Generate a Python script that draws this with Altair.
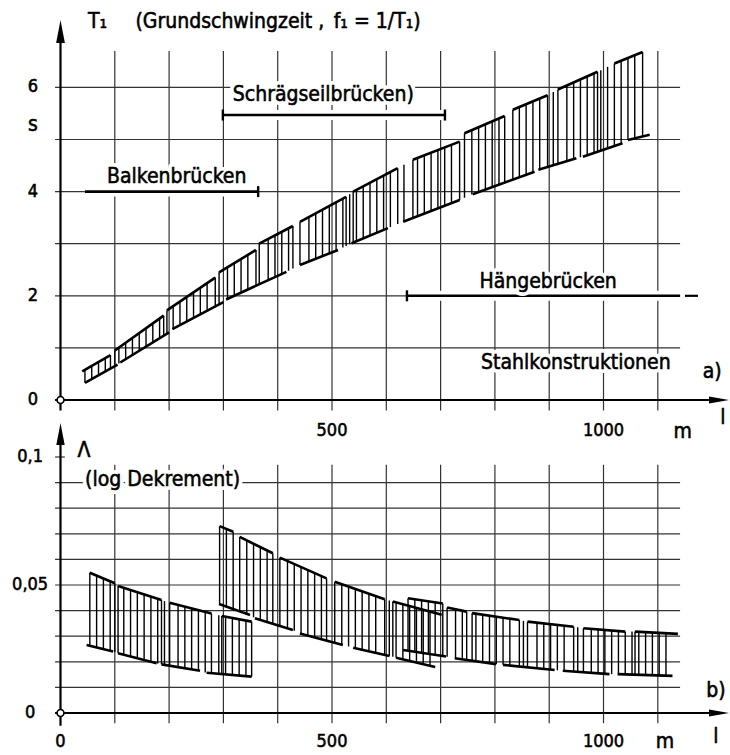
import altair as alt
import numpy as np
import pandas as pd

FONT = "DejaVu Sans Condensed, DejaVu Sans, sans-serif"

# ---------------- shared span axis l [m] ----------------
L_MAX = 1231.1
grid_l = [100, 200, 300, 400, 500, 600, 700, 800, 900, 1000, 1100]

# ---------------- a) fundamental period T1 [s] ----------------
a_grid_T = [1, 2, 3, 4, 5, 6]
a_tick_T = [0, 2, 4, 6]
a_tick_txt = ["0", "2", "4", "6"]
a_xtick_l = [500, 1000]
a_xtick_txt = ["500", "1000"]

# boundary pieces of the hatched band: (l from, T from, l to, T to)
a_upper = [
    (40, 0.55, 92, 0.86),
    (100, 0.95, 190, 1.62),
    (196, 1.72, 285, 2.35),
    (292, 2.45, 360, 2.88),
    (366, 3.00, 428, 3.34),
    (441, 3.42, 526, 3.90),
    (539, 4.00, 621, 4.45),
    (649, 4.61, 735, 4.96),
    (744, 5.12, 818, 5.45),
    (833, 5.57, 897, 5.85),
    (916, 5.96, 989, 6.30),
    (1020, 6.46, 1072, 6.68),
]
a_lower = [
    (45, 0.33, 105, 0.68),
    (110, 0.72, 200, 1.30),
    (206, 1.36, 300, 1.88),
    (305, 1.93, 416, 2.46),
    (441, 2.59, 511, 2.88),
    (536, 3.01, 603, 3.30),
    (631, 3.42, 735, 3.84),
    (759, 3.95, 873, 4.38),
    (880, 4.42, 950, 4.64),
    (962, 4.67, 1035, 4.93),
    (1045, 4.99, 1085, 5.09),
]

# span ranges of the bridge types
bar_name = ["Balkenbrücken", "Schrägseilbrücken)", "Hängebrücken"]
bar_from = [45, 299, 638]
bar_to = [364, 708, 1141]
bar_T = [4.0, 5.47, 2.0]
bar_cap_from = [False, True, True]
bar_cap_to = [True, True, False]
bar_label_l = [214, 484, 898]
bar_label_T = [4.28, 5.854, 2.265]
bar_dash_from = [1150]
bar_dash_to = [1174]
bar_dash_T = [2.0]

a_title = "T₁\u2003\u2002(Grundschwingzeit ,\u2002f₁ = 1/T₁)"
a_notes_txt = ["Stahlkonstruktionen", "a)", "l", "m", "s"]
a_notes_l = [949, 1200, 1220, 1146, -50.6]
a_notes_T = [0.71, 0.54, -0.345, -0.61, 5.28]

# ---------------- b) logarithmic decrement ----------------
b_grid_D = [0.01, 0.02, 0.03, 0.04, 0.05, 0.06, 0.07, 0.08, 0.09]
b_tick_D = [0.0, 0.05, 0.1]
b_tick_txt = ["0", "0,05", "0,1"]
b_xtick_l = [0, 500, 1000]
b_xtick_txt = ["0", "500", "1000"]

# girder bridges
beam_upper = [
    (54, 0.0548, 100, 0.0507),
    (106, 0.0496, 186, 0.0441),
    (201, 0.0431, 278, 0.0389),
    (297, 0.0379, 352, 0.0357),
]
beam_lower = [
    (48, 0.0266, 97, 0.0240),
    (106, 0.0233, 177, 0.0194),
    (186, 0.0190, 257, 0.0165),
    (269, 0.0157, 352, 0.0142),
]
# cable-stayed bridges
cable_upper = [
    (293, 0.0730, 318, 0.0708),
    (330, 0.0688, 391, 0.0624),
    (404, 0.0607, 490, 0.0526),
    (505, 0.0513, 597, 0.0444),
    (612, 0.0436, 702, 0.0384),
]
cable_lower = [
    (292, 0.0426, 349, 0.0383),
    (358, 0.0370, 428, 0.0324),
    (441, 0.0311, 520, 0.0266),
    (539, 0.0255, 606, 0.0223),
    (618, 0.0216, 690, 0.0180),
]
# suspension bridges
susp_upper = [
    (640, 0.0448, 704, 0.0428),
    (712, 0.0412, 748, 0.0396),
    (758, 0.0390, 845, 0.0363),
    (860, 0.0357, 945, 0.0337),
    (963, 0.0331, 1040, 0.0318),
    (1058, 0.0318, 1137, 0.0309),
]
susp_lower = [
    (631, 0.0246, 710, 0.0221),
    (726, 0.0214, 802, 0.0191),
    (815, 0.0188, 910, 0.0168),
    (925, 0.0165, 1011, 0.0152),
    (1026, 0.0152, 1127, 0.0145),
]

b_notes_txt = ["Λ", "(log Dekrement)", "b)", "l", "m"]
b_notes_l = [43, 188, 1207, 1207, 1113]
b_notes_D = [0.1023, 0.091, 0.0086, -0.0094, -0.0113]

# ---------------- scales ----------------
XS = alt.Scale(domain=[0, L_MAX], nice=False, zero=False)
A_SCALE = alt.Scale(domain=[-6.008, 7.294], nice=False, zero=False)
B_SCALE = alt.Scale(domain=[0, 0.2707], nice=False, zero=False)

UP_ARROW = "M0,0L0.38,2L-0.38,2Z"
RIGHT_ARROW = "M0,0L-2,-0.36L-2,0.36Z"


def xenc():
    return alt.X("l:Q", scale=XS, axis=None)


def yenc(yf, ys):
    return alt.Y(f"{yf}:Q", scale=ys, axis=None)


def seg_df(segs, yf):
    return pd.DataFrame([{"l": a, yf: b, "l2": c, yf + "2": d} for a, b, c, d in segs])


def rule_layer(df, yf, ys, x2=False, y2=False, **style):
    enc = {"x": xenc(), "y": yenc(yf, ys)}
    if x2:
        enc["x2"] = alt.X2("l2:Q")
    if y2:
        enc["y2"] = alt.Y2(f"{yf}2:Q")
    return alt.Chart(df).mark_rule(**style).encode(**enc)


def text_layers(df, yf, ys, size, align="center", halo=True):
    base = alt.Chart(df).encode(x=xenc(), y=yenc(yf, ys), text=alt.Text("txt:N"))
    out = []
    if halo:
        out.append(base.mark_text(font=FONT, fontSize=size, align=align, baseline="middle",
                                  fill="white", stroke="white", strokeWidth=8, strokeJoin="round"))
    out.append(base.mark_text(font=FONT, fontSize=size, align=align, baseline="middle",
                              fill="black", stroke="black", strokeWidth=0.55))
    return out


def symbol_layer(df, yf, ys, shape, size):
    return alt.Chart(df).mark_point(shape=shape, size=size, filled=True, color="black",
                                    opacity=1, strokeWidth=0).encode(x=xenc(), y=yenc(yf, ys))


def origin_layer(yf, ys):
    df = pd.DataFrame({"l": [0], yf: [0]})
    return alt.Chart(df).mark_point(shape="circle", size=48, filled=True, fill="white",
                                    stroke="black", strokeWidth=1.6, opacity=1).encode(
        x=xenc(), y=yenc(yf, ys))


def hatch_df(upper, lower, yf, step=12.5, min_gap=5.0):
    """vertical hatching between the lower and upper boundary of a band"""
    ux = np.array([v for s in upper for v in (s[0], s[2])], float)
    uy = np.array([v for s in upper for v in (s[1], s[3])], float)
    lx = np.array([v for s in lower for v in (s[0], s[2])], float)
    ly = np.array([v for s in lower for v in (s[1], s[3])], float)
    start, end = max(ux[0], lx[0]), min(ux[-1], lx[-1])
    steps = [v for v in ux if start <= v <= end]
    regular = [v for v in np.arange(start, end + 1e-6, step)
               if all(abs(v - s) > min_gap for s in steps)]
    xs = np.sort(np.array(steps + regular))
    return pd.DataFrame({"l": xs, yf: np.interp(xs, lx, ly), yf + "2": np.interp(xs, ux, uy)})


GRID = dict(color="#333333", strokeWidth=1.2)
AXIS = dict(color="black", strokeWidth=2.2)
WORD = 21
DIGIT = 18

# ================= panel a) =================
a_layers = []
a_layers.append(rule_layer(pd.DataFrame({"l": grid_l, "T": -0.2, "T2": 6.7}), "T", A_SCALE, y2=True, **GRID))
a_layers.append(rule_layer(pd.DataFrame({"l": -10, "l2": 1141, "T": a_grid_T}), "T", A_SCALE, x2=True, **GRID))

bars = pd.DataFrame({"l": bar_from, "l2": bar_to, "T": bar_T})
dash = pd.DataFrame({"l": bar_dash_from, "l2": bar_dash_to, "T": bar_dash_T})
caps = pd.DataFrame({
    "l": [f for f, c in zip(bar_from, bar_cap_from) if c] + [t for t, c in zip(bar_to, bar_cap_to) if c],
    "T": [y for y, c in zip(bar_T, bar_cap_from) if c] + [y for y, c in zip(bar_T, bar_cap_to) if c],
})
a_layers.append(rule_layer(bars, "T", A_SCALE, x2=True, color="white", strokeWidth=10))
a_layers.append(rule_layer(bars, "T", A_SCALE, x2=True, color="black", strokeWidth=2.6))
a_layers.append(rule_layer(dash, "T", A_SCALE, x2=True, color="black", strokeWidth=2.2))
a_layers.append(alt.Chart(caps).mark_tick(orient="vertical", size=11, thickness=2.4, color="black",
                                          opacity=1).encode(x=xenc(), y=yenc("T", A_SCALE)))

a_layers.append(rule_layer(hatch_df(a_upper, a_lower, "T"), "T", A_SCALE, y2=True,
                           color="black", strokeWidth=1.4))
a_layers.append(rule_layer(seg_df(a_upper + a_lower, "T"), "T", A_SCALE, x2=True, y2=True,
                           color="black", strokeWidth=2.6))

# axes
a_layers.append(rule_layer(pd.DataFrame({"l": [0], "T": [-0.2], "T2": [7.0]}), "T", A_SCALE, y2=True, **AXIS))
a_layers.append(rule_layer(pd.DataFrame({"l": [-10], "l2": [1220], "T": [0]}), "T", A_SCALE, x2=True, **AXIS))
a_layers.append(symbol_layer(pd.DataFrame({"l": [0], "T": [7.294]}), "T", A_SCALE, UP_ARROW, 529))
a_layers.append(symbol_layer(pd.DataFrame({"l": [L_MAX], "T": [0]}), "T", A_SCALE, RIGHT_ARROW, 400))
a_layers.append(origin_layer("T", A_SCALE))

# texts
a_layers += text_layers(pd.DataFrame({"l": -50.6, "T": a_tick_T, "txt": a_tick_txt}), "T", A_SCALE, DIGIT, halo=False)
a_layers += text_layers(pd.DataFrame({"l": a_xtick_l, "T": -0.60, "txt": a_xtick_txt}), "T", A_SCALE, DIGIT)
a_layers += text_layers(pd.DataFrame({"l": bar_label_l, "T": bar_label_T, "txt": bar_name}), "T", A_SCALE, WORD)
a_layers += text_layers(pd.DataFrame({"l": [50.6], "T": [7.255], "txt": [a_title]}), "T", A_SCALE, WORD, align="left")
a_layers += text_layers(pd.DataFrame({"l": a_notes_l, "T": a_notes_T, "txt": a_notes_txt}), "T", A_SCALE, WORD)

# ================= panel b) =================
b_layers = []
b_layers.append(rule_layer(pd.DataFrame({"l": grid_l, "D": -0.004, "D2": 0.097}), "D", B_SCALE, y2=True, **GRID))
b_layers.append(rule_layer(pd.DataFrame({"l": -10, "l2": 1141, "D": b_grid_D}), "D", B_SCALE, x2=True, **GRID))
b_layers.append(rule_layer(pd.DataFrame({"l": [-10], "l2": [8], "D": [0.1]}), "D", B_SCALE, x2=True, **GRID))

for up, lo in [(beam_upper, beam_lower), (cable_upper, cable_lower), (susp_upper, susp_lower)]:
    b_layers.append(rule_layer(hatch_df(up, lo, "D"), "D", B_SCALE, y2=True, color="black", strokeWidth=1.4))
    b_layers.append(rule_layer(seg_df(up + lo, "D"), "D", B_SCALE, x2=True, y2=True,
                               color="black", strokeWidth=2.6))

b_layers.append(rule_layer(pd.DataFrame({"l": [0], "D": [-0.005], "D2": [0.105]}), "D", B_SCALE, y2=True, **AXIS))
b_layers.append(rule_layer(pd.DataFrame({"l": [-10], "l2": [1220], "D": [0]}), "D", B_SCALE, x2=True, **AXIS))
b_layers.append(symbol_layer(pd.DataFrame({"l": [0], "D": [0.1133]}), "D", B_SCALE, UP_ARROW, 484))
b_layers.append(symbol_layer(pd.DataFrame({"l": [L_MAX], "D": [0]}), "D", B_SCALE, RIGHT_ARROW, 400))
b_layers.append(origin_layer("D", B_SCALE))

b_layers += text_layers(pd.DataFrame({"l": -56, "D": b_tick_D, "txt": b_tick_txt}), "D", B_SCALE, DIGIT, halo=False)
b_layers += text_layers(pd.DataFrame({"l": b_xtick_l, "D": -0.0113, "txt": b_xtick_txt}), "D", B_SCALE, DIGIT)
b_layers += text_layers(pd.DataFrame({"l": b_notes_l, "D": b_notes_D, "txt": b_notes_txt}), "D", B_SCALE, WORD)

chart = (
    alt.layer(alt.layer(*a_layers), alt.layer(*b_layers))
    .resolve_scale(y="independent")
    .properties(width=668.5, height=693, background="white",
                autosize=alt.AutoSizeParams(type="none"),
                padding={"left": 60.5, "top": 20, "right": 1, "bottom": 42})
    .configure_view(strokeWidth=0)
)

chart.save("out.html", embed_options={"renderer": "svg", "actions": False})
